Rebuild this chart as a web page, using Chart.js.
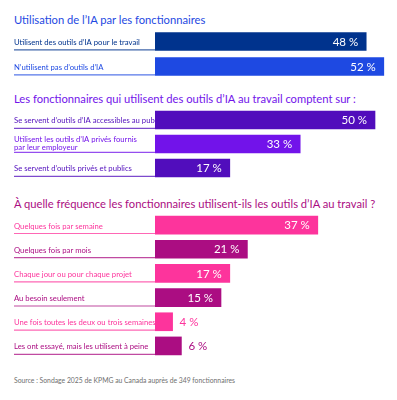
<!DOCTYPE html>
<html>
<head>
<meta charset="utf-8">
<script src="https://cdn.jsdelivr.net/npm/chart.js@4.4.1/dist/chart.umd.min.js"></script>
<style>
  body { margin: 0; background: #fff; font-family: Lato, "Noto Sans", sans-serif; }
  #page { position: relative; width: 397px; height: 400px; overflow: hidden; }
  .title { position: absolute; left: 14px; white-space: nowrap; font-size: 11.2px; line-height: 14px; }
  .box { position: absolute; left: 0; width: 397px; }
  #source { position: absolute; left: 14px; top: 376px; font-size: 6.8px; line-height: 8px; color: #6f6f6f; white-space: nowrap; }
</style>
</head>
<body>
<div id="page">
  <div class="title" style="top:13px;color:#1e49e2">Utilisation de l’IA par les fonctionnaires</div>
  <div class="box" style="top:29px;height:50px"><canvas id="usage-chart"></canvas></div>

  <div class="title" style="top:92px;color:#7213ea">Les fonctionnaires qui utilisent des outils d’IA au travail comptent sur :</div>
  <div class="box" style="top:108px;height:72px"><canvas id="tools-chart"></canvas></div>

  <div class="title" style="top:197px;color:#ab0d82">À quelle fréquence les fonctionnaires utilisent-ils les outils d’IA au travail ?</div>
  <div class="box" style="top:213px;height:145px"><canvas id="freq-chart"></canvas></div>

  <div id="source">Source : Sondage 2025 de KPMG au Canada auprès de 349 fonctionnaires</div>
</div>

<script>
// data
const usageLabels = ["Utilisent des outils d’IA pour le travail", "N’utilisent pas d’outils d’IA"];
const usageValues = [48, 52];

const toolLabels = [
  "Se servent d’outils d’IA accessibles au public",
  ["Utilisent les outils d’IA privés fournis", "par leur employeur"],
  "Se servent d’outils privés et publics"
];
const toolValues = [50, 33, 17];

const freqLabels = [
  "Quelques fois par semaine",
  "Quelques fois par mois",
  "Chaque jour ou pour chaque projet",
  "Au besoin seulement",
  "Une fois toutes les deux ou trois semaines",
  "Les ont essayé, mais les utilisent à peine"
];
const freqValues = [37, 21, 17, 15, 4, 6];

// colours
const usageColors = ["#00338d", "#1e49e2"];
const toolColors = ["#510dbc", "#7213ea", "#510dbc"];
const freqColors = ["#fd349c", "#ab0d82", "#fd349c", "#ab0d82", "#fd349c", "#ab0d82"];

const FONT = "Lato, 'Noto Sans', sans-serif";

const rowLabels = {
  id: "rowLabels",
  beforeDatasetsDraw(chart) {
    const ctx = chart.ctx;
    const labels = chart.data.labels;
    const colors = chart.data.datasets[0].backgroundColor;
    chart.getDatasetMeta(0).data.forEach((bar, i) => {
      const bottom = bar.y + bar.height / 2;
      ctx.save();
      ctx.strokeStyle = colors[i];
      ctx.globalAlpha = 0.75;
      ctx.lineWidth = 1.2;
      ctx.beginPath();
      ctx.moveTo(14, bottom - 0.6);
      ctx.lineTo(bar.base, bottom - 0.6);
      ctx.stroke();
      ctx.globalAlpha = 1;
      ctx.fillStyle = colors[i];
      ctx.font = "7.7px " + FONT;
      ctx.textBaseline = "middle";
      const lines = Array.isArray(labels[i]) ? labels[i] : [labels[i]];
      const lh = 8;
      const y0 = bar.y + 1 - (lines.length - 1) * lh / 2;
      lines.forEach((t, k) => ctx.fillText(t, 14, y0 + k * lh - (lines.length > 1 ? 1.5 : 0)));
      ctx.restore();
    });
  },
  afterDatasetsDraw(chart) {
    const ctx = chart.ctx;
    const ds = chart.data.datasets[0];
    chart.getDatasetMeta(0).data.forEach((bar, i) => {
      const txt = ds.data[i] + " %";
      ctx.save();
      ctx.font = "11.5px " + FONT;
      ctx.textBaseline = "middle";
      if (bar.x - bar.base > 40) {
        ctx.fillStyle = "#fff";
        ctx.textAlign = "right";
        ctx.fillText(txt, bar.x - 8, bar.y + 0.5);
      } else {
        ctx.fillStyle = ds.backgroundColor[i];
        ctx.textAlign = "left";
        ctx.fillText(txt, bar.x + 7, bar.y + 0.5);
      }
      ctx.restore();
    });
  }
};

function makeChart(id, labels, values, colors) {
  return new Chart(document.getElementById(id), {
    type: "bar",
    data: {
      labels: labels,
      datasets: [{
        data: values,
        backgroundColor: colors,
        borderWidth: 0,
        barThickness: 18
      }]
    },
    options: {
      indexAxis: "y",
      responsive: true,
      maintainAspectRatio: false,
      animation: false,
      layout: { padding: { left: 155, right: 0, top: 0, bottom: 0 } },
      plugins: { legend: { display: false }, tooltip: { enabled: false } },
      scales: {
        x: { display: false, min: 0, max: 55 },
        y: { display: false }
      }
    },
    plugins: [rowLabels]
  });
}

makeChart("usage-chart", usageLabels, usageValues, usageColors);
makeChart("tools-chart", toolLabels, toolValues, toolColors);
makeChart("freq-chart", freqLabels, freqValues, freqColors);
</script>
</body>
</html>
